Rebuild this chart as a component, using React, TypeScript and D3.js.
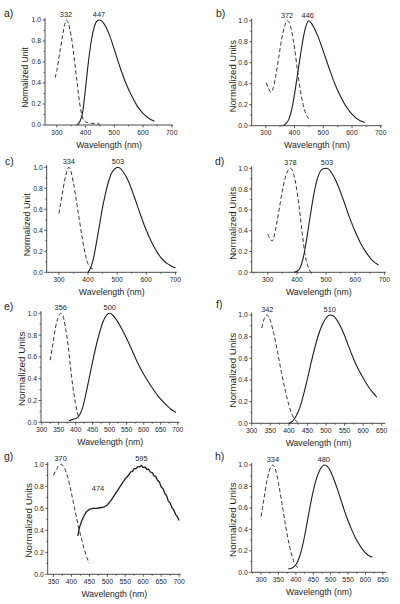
import React from 'react';
import * as d3 from 'd3';

type Pt = [number, number];

// ---- data (wavelength nm, normalized intensity) ----
const aExc: Pt[] = [[294,0.45],[300,0.52],[310,0.68],[320,0.85],[328,0.96],[333,1.0],[340,0.97],[350,0.85],[360,0.65],[370,0.42],[380,0.2],[390,0.07],[400,0.03],[420,0.015],[450,0.01]];
const aEm: Pt[] = [[370,0],[380,0.03],[390,0.12],[400,0.35],[410,0.6],[420,0.8],[430,0.93],[440,0.99],[450,1.0],[460,0.98],[480,0.88],[500,0.72],[520,0.55],[540,0.4],[560,0.28],[580,0.18],[600,0.11],[620,0.065],[640,0.035]];

const bExc: Pt[] = [[302,0.41],[310,0.35],[318,0.32],[325,0.35],[335,0.48],[345,0.65],[355,0.82],[365,0.94],[374,1.0],[382,0.98],[390,0.9],[400,0.74],[410,0.53],[420,0.34],[430,0.2],[440,0.11],[450,0.065],[455,0.05]];
const bEm: Pt[] = [[360,0],[370,0.02],[380,0.06],[390,0.15],[400,0.3],[410,0.48],[420,0.66],[430,0.83],[440,0.95],[449,1.0],[460,0.97],[480,0.86],[500,0.71],[520,0.55],[540,0.4],[560,0.28],[580,0.18],[600,0.11],[620,0.06],[645,0.03]];

const cExc: Pt[] = [[300,0.56],[310,0.72],[320,0.88],[328,0.97],[334,1.0],[340,0.97],[350,0.85],[360,0.68],[370,0.5],[380,0.33],[390,0.18],[400,0.08],[410,0.04],[420,0.03]];
const cEm: Pt[] = [[400,0],[410,0.05],[420,0.15],[430,0.3],[440,0.46],[450,0.62],[460,0.75],[470,0.86],[480,0.94],[490,0.98],[503,1.0],[520,0.96],[540,0.86],[560,0.71],[580,0.55],[600,0.4],[620,0.28],[640,0.18],[660,0.11],[680,0.07],[700,0.04]];

const dExc: Pt[] = [[300,0.37],[308,0.32],[315,0.3],[322,0.35],[330,0.46],[340,0.62],[350,0.78],[360,0.91],[370,0.98],[378,1.0],[388,0.95],[398,0.82],[408,0.62],[418,0.38],[428,0.17],[435,0.08],[442,0.03],[447,0.0]];
const dEm: Pt[] = [[390,0],[400,0.01],[410,0.04],[420,0.12],[430,0.26],[440,0.44],[450,0.62],[460,0.78],[470,0.9],[480,0.97],[490,0.995],[503,1.0],[520,0.95],[540,0.84],[560,0.69],[580,0.53],[600,0.39],[620,0.27],[640,0.18],[660,0.11],[680,0.07]];

const eExc: Pt[] = [[325,0.57],[333,0.72],[340,0.86],[348,0.96],[356,1.0],[362,0.98],[370,0.87],[378,0.7],[385,0.5],[392,0.32],[399,0.18],[405,0.09],[410,0.03]];
const eEm: Pt[] = [[380,0.015],[390,0.025],[400,0.035],[410,0.06],[420,0.13],[430,0.26],[440,0.41],[450,0.56],[460,0.7],[470,0.82],[480,0.92],[490,0.98],[500,1.0],[510,0.98],[520,0.94],[540,0.83],[560,0.7],[580,0.56],[600,0.44],[620,0.34],[640,0.25],[660,0.18],[680,0.12],[695,0.09]];

const fExc: Pt[] = [[327,0.88],[333,0.96],[342,1.0],[350,0.95],[360,0.82],[370,0.65],[380,0.47],[390,0.31],[400,0.17],[410,0.07],[420,0.02],[427,0.0]];
const fEm: Pt[] = [[400,0.0],[410,0.02],[420,0.07],[430,0.15],[440,0.27],[450,0.41],[460,0.56],[470,0.7],[480,0.82],[490,0.91],[500,0.97],[510,1.0],[520,0.99],[530,0.95],[540,0.89],[550,0.81],[560,0.72],[570,0.63],[580,0.55],[590,0.48],[600,0.42],[610,0.36],[620,0.31],[630,0.27],[637,0.24]];

const gExc: Pt[] = [[350,0.9],[358,0.95],[365,0.99],[372,1.0],[380,0.97],[390,0.88],[400,0.74],[410,0.58],[420,0.43],[430,0.3],[440,0.18],[450,0.1]];
const gEm: Pt[] = [[418,0.35],[422,0.42],[428,0.48],[435,0.53],[442,0.57],[450,0.59],[460,0.6],[470,0.6],[480,0.605],[490,0.61],[500,0.63],[510,0.67],[520,0.72],[530,0.77],[540,0.82],[550,0.87],[555,0.885],[560,0.905],[565,0.93],[570,0.935],[575,0.96],[580,0.96],[585,0.98],[590,0.975],[595,0.99],[600,0.97],[605,0.975],[610,0.955],[615,0.955],[620,0.93],[625,0.925],[630,0.895],[635,0.89],[640,0.855],[645,0.84],[650,0.795],[655,0.78],[660,0.735],[665,0.715],[670,0.665],[675,0.65],[680,0.605],[685,0.585],[690,0.545],[695,0.525],[700,0.49]];

const hExc: Pt[] = [[300,0.52],[308,0.68],[316,0.84],[324,0.95],[334,1.0],[342,0.95],[350,0.83],[360,0.64],[370,0.44],[380,0.27],[390,0.14],[400,0.06],[410,0.04]];
const hEm: Pt[] = [[378,0.03],[385,0.035],[392,0.045],[400,0.07],[410,0.14],[420,0.26],[430,0.42],[440,0.6],[450,0.76],[460,0.88],[470,0.96],[482,1.0],[490,0.99],[500,0.94],[510,0.86],[520,0.77],[530,0.67],[540,0.57],[550,0.48],[560,0.4],[570,0.33],[580,0.27],[590,0.22],[600,0.18],[610,0.155],[620,0.14]];

// peak labels: [text, wavelength, value]
const aPeaks: [string, number, number][] = [['332',332,1],['447',447,1]];
const bPeaks: [string, number, number][] = [['372',374,1],['446',446,1]];
const cPeaks: [string, number, number][] = [['334',334,1],['503',503,1]];
const dPeaks: [string, number, number][] = [['378',378,1],['503',503,1]];
const ePeaks: [string, number, number][] = [['356',356,1],['500',500,1]];
const fPeaks: [string, number, number][] = [['342',342,1],['510',510,1]];
const gPeaks: [string, number, number][] = [['370',370,1],['474',474,0.73],['595',595,1]];
const hPeaks: [string, number, number][] = [['334',334,1],['480',480,1]];

const ticks100 = [300, 400, 500, 600, 700];
const ticks50a = [300, 350, 400, 450, 500, 550, 600, 650, 700];
const ticks50b = [300, 350, 400, 450, 500, 550, 600, 650];
const ticks50g = [350, 400, 450, 500, 550, 600, 650, 700];
const yTicks = [0, 0.2, 0.4, 0.6, 0.8, 1.0];

// ---- layout ----
const panels = [
  { letter: 'a)', exc: aExc, em: aEm, peaks: aPeaks, xt: ticks100, minorStep: 50, domain: [259, 705], left: 45, right: 173.2, bottom: 125, top: 20, ytitle: 'Normalized Unit', yfs: 8.5, ydy: 5, lx: 4, ly: 17, smooth: true },
  { letter: 'b)', exc: bExc, em: bEm, peaks: bPeaks, xt: ticks100, minorStep: 50, domain: [251, 705], left: 251.7, right: 382.2, bottom: 125.7, top: 20.7, ytitle: 'Normalized Units', yfs: 9.5, ydy: 3, lx: 216, ly: 17, smooth: true },
  { letter: 'c)', exc: cExc, em: cEm, peaks: cPeaks, xt: ticks100, minorStep: 50, domain: [258, 705], left: 46.7, right: 176.8, bottom: 272.3, top: 167.3, ytitle: 'Normalized Unit', yfs: 8.9, ydy: 5, lx: 5, ly: 165, smooth: true },
  { letter: 'd)', exc: dExc, em: dEm, peaks: dPeaks, xt: ticks100, minorStep: 50, domain: [245, 705], left: 251.7, right: 385.9, bottom: 272.3, top: 168.3, ytitle: 'Normalized Units', yfs: 9.6, ydy: 3, lx: 215, ly: 165, smooth: true },
  { letter: 'e)', exc: eExc, em: eEm, peaks: ePeaks, xt: ticks50a, minorStep: 25, domain: [298, 705], left: 41, right: 179.4, bottom: 422.3, top: 313.3, ytitle: 'Normalized Units', yfs: 9.8, ydy: 1, lx: 4, ly: 310, smooth: true },
  { letter: 'f)', exc: fExc, em: fEm, peaks: fPeaks, xt: ticks50b, minorStep: 25, domain: [300, 660], left: 251.7, right: 385.4, bottom: 423.3, top: 315, ytitle: 'Normalized Units', yfs: 9.8, ydy: 1, lx: 216, ly: 308, smooth: true },
  { letter: 'g)', exc: gExc, em: gEm, peaks: gPeaks, xt: ticks50g, minorStep: 25, domain: [334, 705], left: 47.7, right: 180.9, bottom: 574.3, top: 464.3, ytitle: 'Normalized Units', yfs: 9.8, ydy: 1, lx: 4, ly: 460, smooth: false },
  { letter: 'h)', exc: hExc, em: hEm, peaks: hPeaks, xt: ticks50b, minorStep: 25, domain: [273, 660], left: 251.7, right: 386.3, bottom: 572.3, top: 465, ytitle: 'Normalized Units', yfs: 9.8, ydy: 1, lx: 215, ly: 460, smooth: true },
];

const FONT = 'Liberation Sans, Arial, sans-serif';
const INK = '#1e1e1e';

function Panel({ p }: { p: any }) {
  const x = d3.scaleLinear().domain(p.domain).range([p.left, p.right]);
  const y = d3.scaleLinear().domain([0, 1]).range([p.bottom, p.top]);
  const line = d3.line<Pt>().x(d => x(d[0])).y(d => y(d[1])).curve(d3.curveMonotoneX);
  const rough = d3.line<Pt>().x(d => x(d[0])).y(d => y(d[1])).curve(p.smooth ? d3.curveMonotoneX : d3.curveLinear);
  const [d0, d1] = p.domain;
  const minorX: number[] = [];
  for (let v = Math.ceil(d0 / p.minorStep) * p.minorStep; v <= d1; v += p.minorStep) {
    if (!p.xt.includes(v)) minorX.push(v);
  }
  const minorY = [0.1, 0.3, 0.5, 0.7, 0.9];
  const midX = (p.left + p.right) / 2;
  const midY = (p.top + p.bottom) / 2 + p.ydy;
  return (
    <g>
      <text x={p.lx} y={p.ly} fontSize={10.5} fontFamily={FONT} fill={INK}>{p.letter}</text>
      {/* axes */}
      <line x1={p.left} x2={p.left} y1={p.bottom} y2={y(1.02)} stroke={INK} strokeWidth={0.8} />
      <line x1={p.left} x2={p.right} y1={p.bottom} y2={p.bottom} stroke={INK} strokeWidth={0.8} />
      {p.xt.map((t: number) => (
        <g key={'xt' + t}>
          <line x1={x(t)} x2={x(t)} y1={p.bottom} y2={p.bottom + 2.5} stroke={INK} strokeWidth={0.7} />
          <text x={x(t)} y={p.bottom + 9.5} fontSize={6.8} textAnchor="middle" fontFamily={FONT} fill={INK}>{t}</text>
        </g>
      ))}
      {minorX.map(t => (
        <line key={'xm' + t} x1={x(t)} x2={x(t)} y1={p.bottom} y2={p.bottom + 1.5} stroke={INK} strokeWidth={0.6} />
      ))}
      {yTicks.map(t => (
        <g key={'yt' + t}>
          <line x1={p.left - 2.5} x2={p.left} y1={y(t)} y2={y(t)} stroke={INK} strokeWidth={0.7} />
          <text x={p.left - 4} y={y(t) + 2.4} fontSize={6.8} textAnchor="end" fontFamily={FONT} fill={INK}>{t.toFixed(1)}</text>
        </g>
      ))}
      {minorY.map(t => (
        <line key={'ym' + t} x1={p.left - 1.5} x2={p.left} y1={y(t)} y2={y(t)} stroke={INK} strokeWidth={0.6} />
      ))}
      <text x={midX} y={p.bottom + 22.5} fontSize={8.7} textAnchor="middle" fontFamily={FONT} fill={INK}>Wavelength (nm)</text>
      <text transform={`translate(${p.left - 19.5},${midY}) rotate(-90)`} fontSize={p.yfs} textAnchor="middle" fontFamily={FONT} fill={INK} dy="0.35em">{p.ytitle}</text>
      {/* curves */}
      <path d={line(p.exc) || ''} fill="none" stroke={INK} strokeWidth={0.9} strokeDasharray="4,2.5" />
      <path d={rough(p.em) || ''} fill="none" stroke={INK} strokeWidth={p.smooth ? 1.1 : 1.3} />
      {p.peaks.map((pk: [string, number, number]) => (
        <text key={'pk' + pk[0]} x={x(pk[1])} y={y(pk[2]) - 3} fontSize={7.4} textAnchor="middle" fontFamily={FONT} fill={INK}>{pk[0]}</text>
      ))}
    </g>
  );
}

export default function App() {
  return (
    <svg width={400} height={604} style={{ position: 'absolute', left: 0, top: 0, background: '#fff' }}>
      <rect x={0} y={0} width={400} height={604} fill="#fff" />
      {panels.map(p => <Panel key={p.letter} p={p} />)}
    </svg>
  );
}
